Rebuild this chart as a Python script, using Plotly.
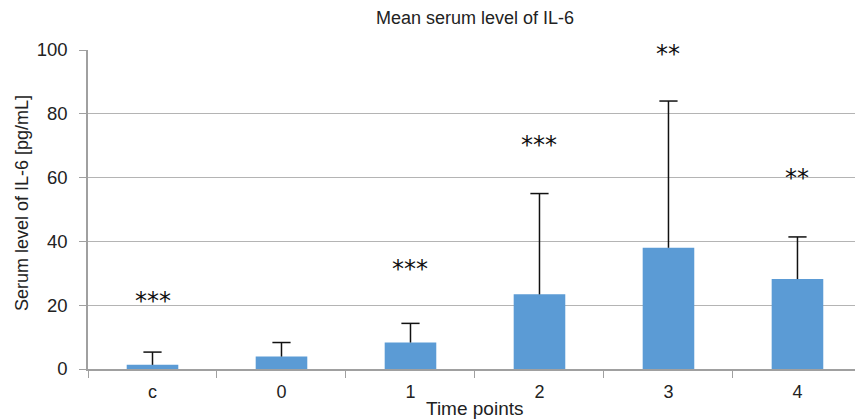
import plotly.graph_objects as go

categories = ["c", "0", "1", "2", "3", "4"]
means = [1.3, 3.9, 8.3, 23.4, 38.0, 28.2]
err_tops = [5.3, 8.3, 14.3, 55.0, 84.0, 41.4]
sig_labels = ["***", "", "***", "***", "**", "**"]
sig_y = [22.5, None, 32.5, 71.5, 100.0, 61.0]

err_plus = [t - m for t, m in zip(err_tops, means)]
err_minus = [0] * len(means)

fig = go.Figure()
fig.add_trace(go.Bar(
    x=categories, y=means, width=0.4,
    marker=dict(color="#5B9BD5", line=dict(width=0)),
    error_y=dict(type="data", symmetric=False, array=err_plus, arrayminus=err_minus,
                 color="#111111", thickness=1.5, width=0),
))
# caps at top of error bars
fig.add_trace(go.Scatter(
    x=categories, y=err_tops, mode="markers",
    marker=dict(symbol="line-ew", size=13, line=dict(color="#111111", width=1.5)),
    hoverinfo="skip",
))

for i, (lab, yv) in enumerate(zip(sig_labels, sig_y)):
    if lab:
        fig.add_annotation(x=i, y=yv, text=lab, showarrow=False, xref="x", yref="y",
                           font=dict(family="DejaVu Sans", size=24, color="#111111"),
                           yanchor="middle", yshift=-4)

fig.add_annotation(text="Mean serum level of IL-6", xref="paper", yref="paper",
                   x=0.505, y=1.0, yshift=32, yanchor="middle", xanchor="center", showarrow=False,
                   font=dict(family="Liberation Sans, Arial", size=18, color="#222222"))
fig.add_annotation(text="Time points", xref="paper", yref="paper",
                   x=0.505, y=0, yshift=-39, yanchor="middle", xanchor="center", showarrow=False,
                   font=dict(family="Liberation Sans, Arial", size=19, color="#222222"))
fig.add_annotation(text="Serum level of IL-6 [pg/mL]", xref="paper", yref="paper",
                   x=0, xshift=-66, y=0.52, xanchor="center", yanchor="middle",
                   textangle=-90, showarrow=False,
                   font=dict(family="Liberation Sans, Arial", size=18, color="#222222"))

fig.update_layout(
    width=855, height=420,
    margin=dict(l=88, r=0, t=50, b=51),
    plot_bgcolor="white", paper_bgcolor="white",
    showlegend=False,
)
fig.update_xaxes(
    type="category", range=[-0.5, 5.446],
    showline=True, linecolor="#a0a0a0", linewidth=1.5,
    ticks="outside", tickson="boundaries", ticklen=7, tickcolor="#a0a0a0",
    tickfont=dict(family="Liberation Sans, Arial", size=18, color="#222222"),
    ticklabelstandoff=6,
    showgrid=False,
)
fig.update_yaxes(
    range=[0, 100], tickvals=[0, 20, 40, 60, 80, 100],
    showline=True, linecolor="#a0a0a0", linewidth=1.5,
    ticks="outside", ticklen=7, tickcolor="#a0a0a0",
    ticklabelstandoff=8,
    showgrid=True, gridcolor="#b4b4b4", gridwidth=1,
    zeroline=False,
    tickfont=dict(family="Liberation Sans, Arial", size=18.5, color="#222222"),
)

fig.write_html("out.html")
